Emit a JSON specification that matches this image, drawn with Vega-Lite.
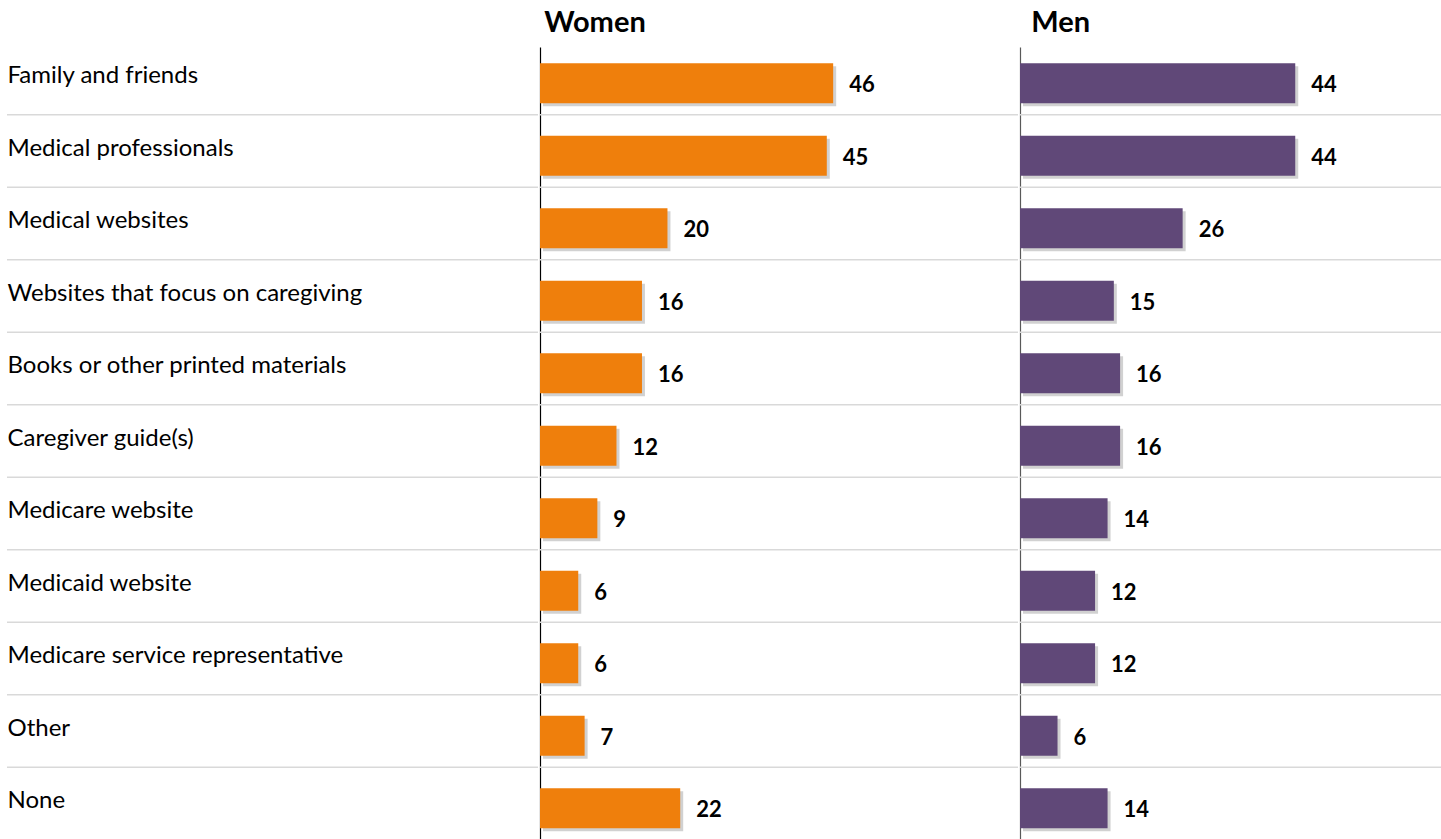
{
  "$schema": "https://vega.github.io/schema/vega-lite/v6.json",
  "padding": {"left": 6, "top": 9, "right": 0, "bottom": 0},
  "background": "white",
  "config": {"view": {"stroke": null}, "font": "Lato"},
  "data": {"values": [
    {"cat": "Family and friends", "women": 46, "men": 44},
    {"cat": "Medical professionals", "women": 45, "men": 44},
    {"cat": "Medical websites", "women": 20, "men": 26},
    {"cat": "Websites that focus on caregiving", "women": 16, "men": 15},
    {"cat": "Books or other printed materials", "women": 16, "men": 16},
    {"cat": "Caregiver guide(s)", "women": 12, "men": 16},
    {"cat": "Medicare website", "women": 9, "men": 14},
    {"cat": "Medicaid website", "women": 6, "men": 12},
    {"cat": "Medicare service representative", "women": 6, "men": 12},
    {"cat": "Other", "women": 7, "men": 6},
    {"cat": "None", "women": 22, "men": 14}
  ]},
  "spacing": 0,
  "resolve": {"scale": {"x": "independent", "y": "independent"}, "axis": {"y": "independent"}},
  "hconcat": [
    {
      "width": 531,
      "height": 797.5,
      "transform": [{"filter": "datum.cat !== 'None'"}],
      "mark": {"type": "rule", "color": "#d9d9d9", "strokeWidth": 1.5, "yOffset": 31.5},
      "encoding": {
        "y": {"field": "cat", "type": "nominal", "sort": null,
          "scale": {"domain": ["Family and friends","Medical professionals","Medical websites","Websites that focus on caregiving","Books or other printed materials","Caregiver guide(s)","Medicare website","Medicaid website","Medicare service representative","Other","None"], "paddingInner": 0.45, "paddingOuter": 0.225},
          "axis": {"title": null, "domain": false, "ticks": false, "grid": false, "labelAlign": "left", "labelPadding": 0, "labelFont": "Lato", "labelFontSize": 24, "labelColor": "#000000", "labelOffset": -7, "labelLimit": 520}}
      }
    },
    {
      "width": 478,
      "height": 797.5,
      "title": {"text": "Women", "anchor": "start", "fontSize": 29, "fontWeight": "bold", "font": "Lato", "color": "#000000", "dx": 5, "offset": 9},
      "encoding": {
        "y": {"field": "cat", "type": "nominal", "sort": null,
          "scale": {"domain": ["Family and friends","Medical professionals","Medical websites","Websites that focus on caregiving","Books or other printed materials","Caregiver guide(s)","Medicare website","Medicaid website","Medicare service representative","Other","None"], "paddingInner": 0.45, "paddingOuter": 0.225},
          "axis": {"title": null, "labels": false, "ticks": false, "grid": false, "domain": true, "domainColor": "#000000", "domainWidth": 1.2}}
      },
      "layer": [
        {
          "transform": [{"filter": "datum.cat !== 'None'"}],
          "mark": {"type": "rule", "color": "#d9d9d9", "strokeWidth": 1.5, "yOffset": 31.5},
          "encoding": {}
        },
        {
          "mark": {"type": "bar", "color": "#000000", "opacity": 0.18, "xOffset": 3, "yOffset": 3},
          "encoding": {"x": {"field": "women", "type": "quantitative", "scale": {"domain": [0, 75.0], "nice": false, "zero": true}, "axis": null}}
        },
        {
          "mark": {"type": "bar", "color": "#EF7F0C"},
          "encoding": {"x": {"field": "women", "type": "quantitative"}}
        },
        {
          "mark": {"type": "text", "align": "left", "baseline": "middle", "dx": 16, "dy": 2, "fontSize": 22, "fontWeight": "bold", "font": "Lato", "color": "#000000"},
          "encoding": {"x": {"field": "women", "type": "quantitative"}, "text": {"field": "women", "type": "quantitative"}}
        }
      ]
    },
    {
      "width": 421,
      "height": 797.5,
      "title": {"text": "Men", "anchor": "start", "fontSize": 29, "fontWeight": "bold", "font": "Lato", "color": "#000000", "dx": 12, "offset": 9},
      "encoding": {
        "y": {"field": "cat", "type": "nominal", "sort": null,
          "scale": {"domain": ["Family and friends","Medical professionals","Medical websites","Websites that focus on caregiving","Books or other printed materials","Caregiver guide(s)","Medicare website","Medicaid website","Medicare service representative","Other","None"], "paddingInner": 0.45, "paddingOuter": 0.225},
          "axis": {"title": null, "labels": false, "ticks": false, "grid": false, "domain": true, "domainColor": "#595959", "domainWidth": 1.2}}
      },
      "layer": [
        {
          "transform": [{"filter": "datum.cat !== 'None'"}],
          "mark": {"type": "rule", "color": "#d9d9d9", "strokeWidth": 1.5, "yOffset": 31.5},
          "encoding": {}
        },
        {
          "mark": {"type": "bar", "color": "#000000", "opacity": 0.18, "xOffset": 3, "yOffset": 3},
          "encoding": {"x": {"field": "men", "type": "quantitative", "scale": {"domain": [0, 67.3], "nice": false, "zero": true}, "axis": null}}
        },
        {
          "mark": {"type": "bar", "color": "#604878"},
          "encoding": {"x": {"field": "men", "type": "quantitative"}}
        },
        {
          "mark": {"type": "text", "align": "left", "baseline": "middle", "dx": 16, "dy": 2, "fontSize": 22, "fontWeight": "bold", "font": "Lato", "color": "#000000"},
          "encoding": {"x": {"field": "men", "type": "quantitative"}, "text": {"field": "men", "type": "quantitative"}}
        }
      ]
    }
  ]
}
